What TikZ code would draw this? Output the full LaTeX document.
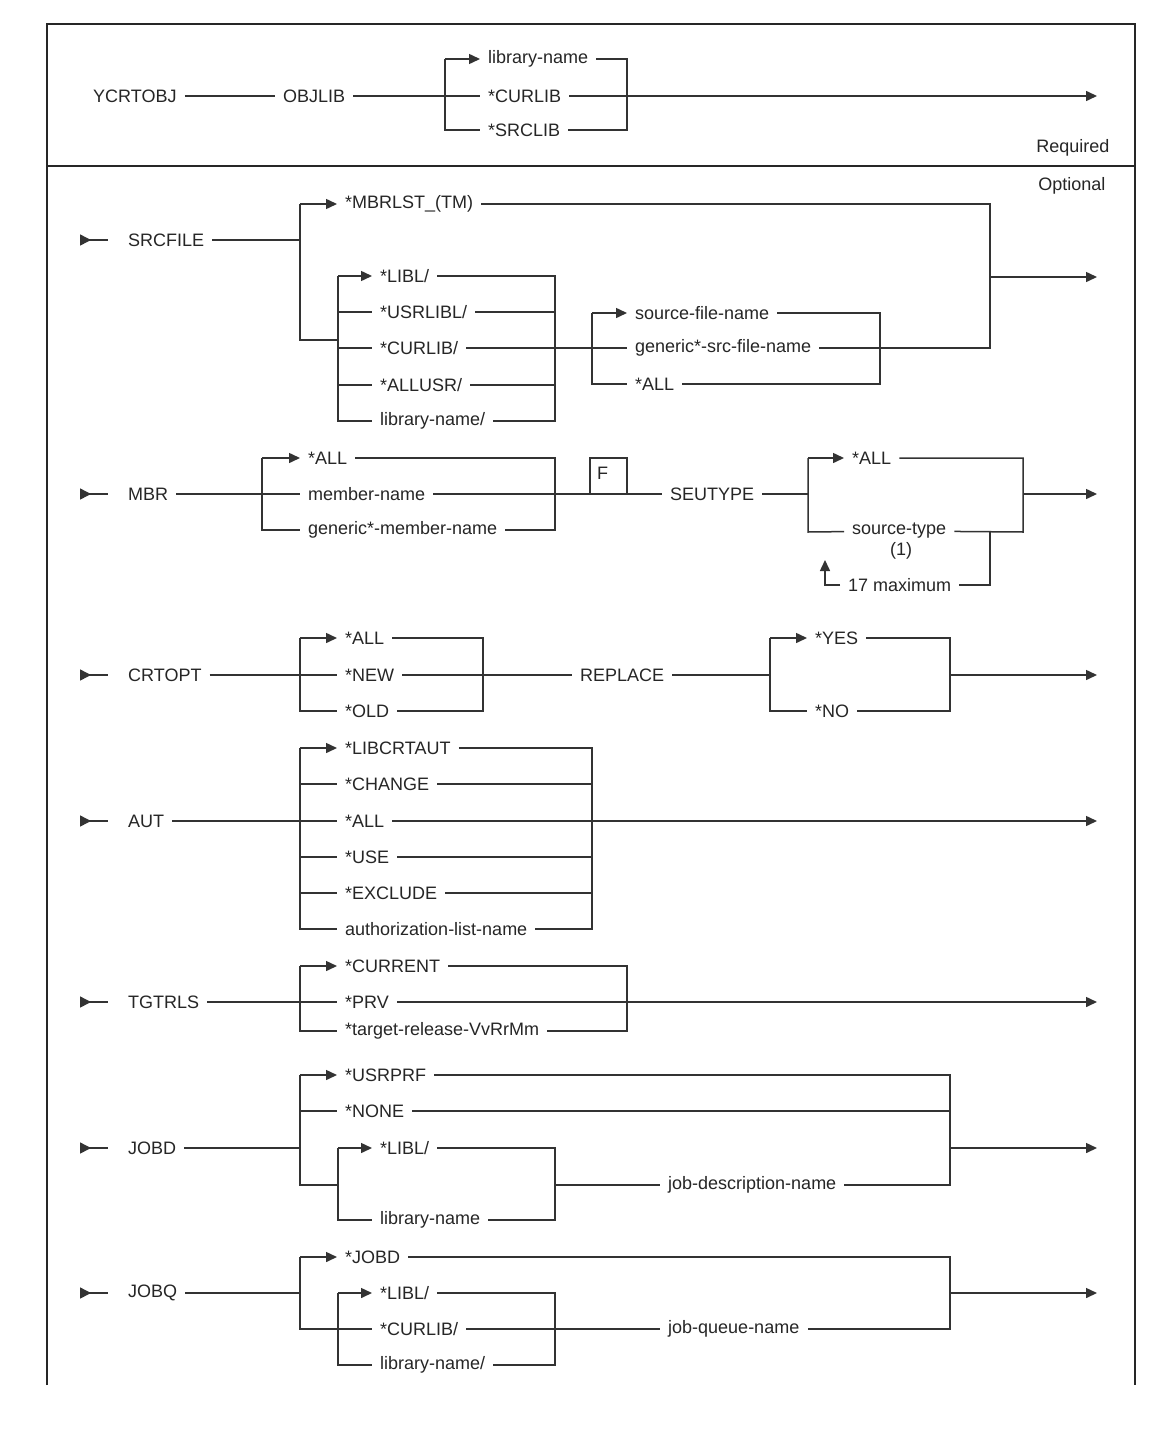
\documentclass[tikz,border=0pt]{standalone}
\usepackage{fontspec}
\setmainfont{Liberation Sans}
\usetikzlibrary{arrows.meta}
\newcommand\dfont{\fontsize{18}{21}\selectfont}
\begin{document}
\begin{tikzpicture}[x=1pt,y=-1pt,
  lbl/.style={font=\dfont, text=black!85, anchor=west, inner xsep=8pt, inner ysep=2pt},
  ln/.style={draw=black!80, line width=1.5pt},
  arr/.style={ln, -{Triangle[length=11pt,width=10pt]}},
  startln/.style={ln, {Triangle[length=11pt,width=11pt,reversed]}-},
  framel/.style={draw=black!85, line width=1.8pt}]
\fill[white] (0,0) rectangle (1161,1453);
\useasboundingbox (0,0) rectangle (1161,1453);
% frame
\coordinate (f1) at (47,1385); \coordinate (f2) at (47,24);
\coordinate (f3) at (1135,24); \coordinate (f4) at (1135,1385);
\coordinate (dv1) at (47,166); \coordinate (dv2) at (1135,166);
\draw[framel] (f1) -- (f2) -- (f3) -- (f4);
\draw[framel] (dv1) -- (dv2);
% ---------- required row
\node[lbl] (ycr) at (85,96) {YCRTOBJ};
\node[lbl] (objlib) at (275,96) {OBJLIB};
\node[lbl] (tlib) at (480,59) {library-name};
\node[lbl] (tcur) at (480,96) {*CURLIB};
\node[lbl] (tsrc) at (480,130) {*SRCLIB};
\coordinate (tL1) at (445,59); \coordinate (tL2) at (445,130);
\coordinate (tR1) at (627,59); \coordinate (tR2) at (627,130);
\coordinate (tend) at (1097,96);
\draw[ln] (ycr) -- (objlib);
\draw[ln] (objlib) -- (tcur);
\draw[arr] (tL1) -- (tlib);
\draw[ln] (tL1) -- (tL2) -- (tsrc);
\draw[ln] (tlib) -- (tR1) -- (tR2) -- (tsrc);
\draw[arr] (tcur) -- (tend);
\node[font=\dfont, text=black!85, anchor=east] (req) at (1113,148) {Required};
\node[font=\dfont, text=black!85, anchor=east] (opt) at (1109,186) {Optional};
% ---------- SRCFILE
\coordinate (s0) at (80,240); \coordinate (s1) at (108,240);
\draw[startln] (s0) -- (s1);
\node[lbl] (srcfile) at (120,240) {SRCFILE};
\coordinate (sa) at (300,240); \coordinate (sb) at (300,204);
\coordinate (sc) at (300,340); \coordinate (sd) at (338,340);
\node[lbl] (mbrlst) at (337,204) {*MBRLST\_(TM)};
\draw[ln] (srcfile) -- (sa);
\draw[ln] (sb) -- (sc) -- (sd);
\draw[arr] (sb) -- (mbrlst);
\node[lbl] (slibl) at (372,276) {*LIBL/};
\node[lbl] (susrlibl) at (372,312) {*USRLIBL/};
\node[lbl] (scurlib) at (372,348) {*CURLIB/};
\node[lbl] (sallusr) at (372,385) {*ALLUSR/};
\node[lbl] (slibn) at (372,421) {library-name/};
\coordinate (sL1) at (338,276); \coordinate (sL2) at (338,421);
\coordinate (sR1) at (555,276); \coordinate (sR2) at (555,421);
\draw[arr] (sL1) -- (slibl);
\draw[ln] (sL1) -- (sL2) -- (slibn);
\draw[ln] (sL1 |- susrlibl) -- (susrlibl);
\draw[ln] (sL1 |- scurlib) -- (scurlib);
\draw[ln] (sL1 |- sallusr) -- (sallusr);
\draw[ln] (slibl) -- (sR1) -- (sR2) -- (slibn);
\draw[ln] (susrlibl) -- (sR1 |- susrlibl);
\draw[ln] (sallusr) -- (sR1 |- sallusr);
\node[lbl] (sfn) at (627,313) {source-file-name};
\node[lbl] (sgen) at (627,348) {generic*-src-file-name};
\node[lbl] (sall) at (627,384) {*ALL};
\draw[ln] (scurlib) -- (sgen);
\coordinate (sF1) at (592,313); \coordinate (sF2) at (592,384);
\coordinate (sG1) at (880,313); \coordinate (sG2) at (880,384);
\draw[arr] (sF1) -- (sfn);
\draw[ln] (sF1) -- (sF2) -- (sall);
\draw[ln] (sfn) -- (sG1) -- (sG2) -- (sall);
\coordinate (sH1) at (990,204); \coordinate (sH2) at (990,348);
\coordinate (sH3) at (990,277); \coordinate (send) at (1097,277);
\draw[ln] (mbrlst) -- (sH1) -- (sH2) -- (sgen);
\draw[arr] (sH3) -- (send);
% ---------- MBR
\coordinate (m0) at (80,494); \coordinate (m1) at (108,494);
\draw[startln] (m0) -- (m1);
\node[lbl] (mbr) at (120,494) {MBR};
\node[lbl] (mall) at (300,458) {*ALL};
\node[lbl] (mname) at (300,494) {member-name};
\node[lbl] (mgen) at (300,530) {generic*-member-name};
\coordinate (mL1) at (262,458); \coordinate (mL2) at (262,530);
\coordinate (mR1) at (555,458); \coordinate (mR2) at (555,530);
\draw[ln] (mbr) -- (mname);
\draw[arr] (mL1) -- (mall);
\draw[ln] (mL1) -- (mL2) -- (mgen);
\draw[ln] (mall) -- (mR1) -- (mR2) -- (mgen);
% F box
\coordinate (fb1) at (590,494); \coordinate (fb2) at (627,458); \coordinate (fb3) at (627,494);
\draw[ln] (fb1) rectangle (fb2);
\node[font=\dfont, text=black!85, anchor=north west, inner sep=0pt] (ftxt) at (597,467) {F};
\draw[ln] (mname.east |- fb1) -- (fb1);
\node[lbl] (seutype) at (662,494) {SEUTYPE};
\draw[ln] (fb3) -- (seutype);
\coordinate (mP1) at (808,458); \coordinate (mP2) at (808,532); \coordinate (mPm) at (808,494);
\node[lbl] (mall2) at (844,458) {*ALL};
\node[lbl] (mstype) at (844,531) {source-type};
\node[font=\dfont, text=black!85] (mone) at (901,551) {(1)};
\draw[ln] (seutype) -- (mPm);
\draw[arr] (mP1) -- (mall2);
\draw[ln] (mP1) -- (mP2) -- (mstype);
\coordinate (mQ1) at (1023,458); \coordinate (mQ2) at (1023,532);
\coordinate (mQm) at (1023,494); \coordinate (mend) at (1097,494);
\draw[ln] (mall2) -- (mQ1) -- (mQ2) -- (mstype);
\draw[arr] (mQm) -- (mend);
\node[lbl] (mmax) at (840,585) {17 maximum};
\coordinate (mK1) at (990,532); \coordinate (mK2) at (990,585);
\coordinate (mK3) at (825,585); \coordinate (mK4) at (825,560);
\draw[ln] (mK1) -- (mK2) -- (mmax);
\draw[arr] (mmax) -- (mK3) -- (mK4);
% ---------- CRTOPT
\coordinate (c0) at (80,675); \coordinate (c1) at (108,675);
\draw[startln] (c0) -- (c1);
\node[lbl] (crtopt) at (120,675) {CRTOPT};
\node[lbl] (call) at (337,638) {*ALL};
\node[lbl] (cnew) at (337,675) {*NEW};
\node[lbl] (cold) at (337,711) {*OLD};
\coordinate (cL1) at (300,638); \coordinate (cL2) at (300,711);
\coordinate (cR1) at (483,638); \coordinate (cR2) at (483,711);
\draw[ln] (crtopt) -- (cnew);
\draw[arr] (cL1) -- (call);
\draw[ln] (cL1) -- (cL2) -- (cold);
\draw[ln] (call) -- (cR1) -- (cR2) -- (cold);
\node[lbl] (replace) at (572,675) {REPLACE};
\draw[ln] (cnew) -- (replace);
\node[lbl] (cyes) at (807,638) {*YES};
\node[lbl] (cno) at (807,711) {*NO};
\coordinate (cP1) at (770,638); \coordinate (cP2) at (770,711); \coordinate (cPm) at (770,675);
\coordinate (cQ1) at (950,638); \coordinate (cQ2) at (950,711); \coordinate (cQm) at (950,675);
\coordinate (cend) at (1097,675);
\draw[ln] (replace) -- (cPm);
\draw[arr] (cP1) -- (cyes);
\draw[ln] (cP1) -- (cP2) -- (cno);
\draw[ln] (cyes) -- (cQ1) -- (cQ2) -- (cno);
\draw[arr] (cQm) -- (cend);
% ---------- AUT
\coordinate (a0) at (80,821); \coordinate (a1) at (108,821);
\draw[startln] (a0) -- (a1);
\node[lbl] (aut) at (120,821) {AUT};
\node[lbl] (alib) at (337,748) {*LIBCRTAUT};
\node[lbl] (achg) at (337,784) {*CHANGE};
\node[lbl] (aall) at (337,821) {*ALL};
\node[lbl] (ause) at (337,857) {*USE};
\node[lbl] (aexc) at (337,893) {*EXCLUDE};
\node[lbl] (aauth) at (337,929) {authorization-list-name};
\coordinate (aL1) at (300,748); \coordinate (aL2) at (300,929);
\coordinate (aR1) at (592,748); \coordinate (aR2) at (592,929);
\coordinate (aend) at (1097,821);
\draw[ln] (aut) -- (aall);
\draw[arr] (aall) -- (aend);
\draw[arr] (aL1) -- (alib);
\draw[ln] (aL1) -- (aL2) -- (aauth);
\draw[ln] (aL1 |- achg) -- (achg);
\draw[ln] (aL1 |- ause) -- (ause);
\draw[ln] (aL1 |- aexc) -- (aexc);
\draw[ln] (alib) -- (aR1) -- (aR2) -- (aauth);
\draw[ln] (achg) -- (aR1 |- achg);
\draw[ln] (ause) -- (aR1 |- ause);
\draw[ln] (aexc) -- (aR1 |- aexc);
% ---------- TGTRLS
\coordinate (g0) at (80,1002); \coordinate (g1) at (108,1002);
\draw[startln] (g0) -- (g1);
\node[lbl] (tgt) at (120,1002) {TGTRLS};
\node[lbl] (gcur) at (337,966) {*CURRENT};
\node[lbl] (gprv) at (337,1002) {*PRV};
\node[lbl] (grel) at (337,1031) {*target-release-VvRrMm};
\coordinate (gL1) at (300,966); \coordinate (gL2) at (300,1031);
\coordinate (gR1) at (627,966); \coordinate (gR2) at (627,1031);
\coordinate (gend) at (1097,1002);
\draw[ln] (tgt) -- (gprv);
\draw[arr] (gprv) -- (gend);
\draw[arr] (gL1) -- (gcur);
\draw[ln] (gL1) -- (gL2) -- (grel);
\draw[ln] (gcur) -- (gR1) -- (gR2) -- (grel);
% ---------- JOBD
\coordinate (jd0) at (80,1148); \coordinate (jd1) at (108,1148);
\draw[startln] (jd0) -- (jd1);
\node[lbl] (jobd) at (120,1148) {JOBD};
\node[lbl] (jdusr) at (337,1075) {*USRPRF};
\node[lbl] (jdnone) at (337,1111) {*NONE};
\node[lbl] (jdlibl) at (372,1148) {*LIBL/};
\node[lbl] (jdlibn) at (372,1220) {library-name};
\node[lbl] (jdname) at (660,1185) {job-description-name};
\coordinate (jdA) at (300,1148); \coordinate (jdL1) at (300,1075);
\coordinate (jdL2) at (300,1185); \coordinate (jdB) at (338,1185);
\coordinate (jdM1) at (338,1148); \coordinate (jdM2) at (338,1220);
\coordinate (jdN1) at (555,1148); \coordinate (jdN2) at (555,1220); \coordinate (jdNm) at (555,1185);
\coordinate (jdR1) at (950,1075); \coordinate (jdR2) at (950,1185); \coordinate (jdRm) at (950,1148);
\coordinate (jdend) at (1097,1148);
\draw[ln] (jobd) -- (jdA);
\draw[arr] (jdL1) -- (jdusr);
\draw[ln] (jdL1) -- (jdL2) -- (jdB);
\draw[ln] (jdL1 |- jdnone) -- (jdnone);
\draw[arr] (jdM1) -- (jdlibl);
\draw[ln] (jdM1) -- (jdM2) -- (jdlibn);
\draw[ln] (jdlibl) -- (jdN1) -- (jdN2) -- (jdlibn);
\draw[ln] (jdNm) -- (jdname);
\draw[ln] (jdusr) -- (jdR1) -- (jdR2) -- (jdname);
\draw[ln] (jdnone) -- (jdR1 |- jdnone);
\draw[arr] (jdRm) -- (jdend);
% ---------- JOBQ
\coordinate (jq0) at (80,1293); \coordinate (jq1) at (108,1293);
\draw[startln] (jq0) -- (jq1);
\node[lbl] (jobq) at (120,1293) {JOBQ};
\node[lbl] (jqjobd) at (337,1257) {*JOBD};
\node[lbl] (jqlibl) at (372,1293) {*LIBL/};
\node[lbl] (jqcur) at (372,1329) {*CURLIB/};
\node[lbl] (jqlibn) at (372,1365) {library-name/};
\node[lbl] (jqname) at (660,1329) {job-queue-name};
\coordinate (jqA) at (300,1293); \coordinate (jqL1) at (300,1257); \coordinate (jqL2) at (300,1329);
\coordinate (jqM1) at (338,1293); \coordinate (jqM2) at (338,1365);
\coordinate (jqN1) at (555,1293); \coordinate (jqN2) at (555,1365);
\coordinate (jqR1) at (950,1257); \coordinate (jqR2) at (950,1329); \coordinate (jqRm) at (950,1293);
\coordinate (jqend) at (1097,1293);
\draw[ln] (jobq) -- (jqA);
\draw[arr] (jqL1) -- (jqjobd);
\draw[ln] (jqL1) -- (jqL2) -- (jqcur);
\draw[arr] (jqM1) -- (jqlibl);
\draw[ln] (jqM1) -- (jqM2) -- (jqlibn);
\draw[ln] (jqlibl) -- (jqN1) -- (jqN2) -- (jqlibn);
\draw[ln] (jqcur) -- (jqname);
\draw[ln] (jqjobd) -- (jqR1) -- (jqR2) -- (jqname);
\draw[arr] (jqRm) -- (jqend);
\end{tikzpicture}
\end{document}
